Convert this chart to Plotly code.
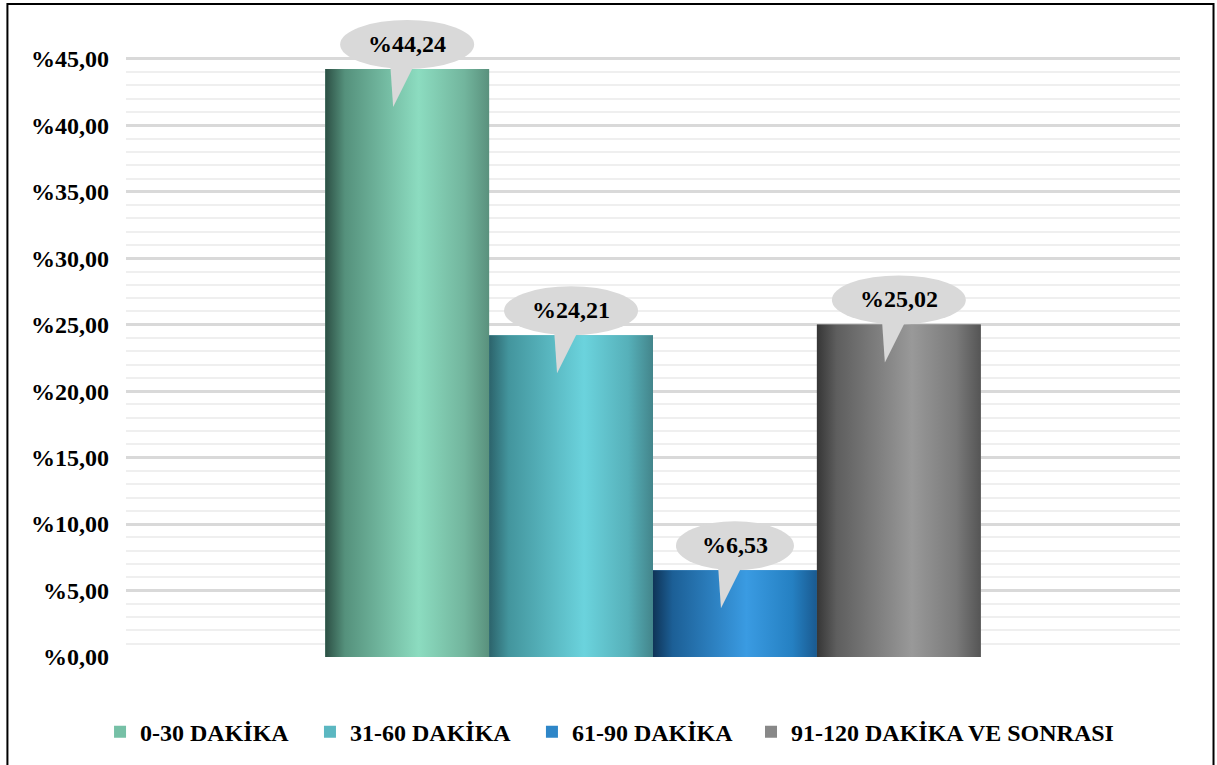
import plotly.graph_objects as go

# ---- data ----
series_names = ["0-30 DAKİKA", "31-60 DAKİKA", "61-90 DAKİKA", "91-120 DAKİKA VE SONRASI"]
values = [44.24, 24.21, 6.53, 25.02]
value_labels = ["%44,24", "%24,21", "%6,53", "%25,02"]
tick_values = [0, 5, 10, 15, 20, 25, 30, 35, 40, 45]
tick_labels = ["%0,00", "%5,00", "%10,00", "%15,00", "%20,00", "%25,00",
               "%30,00", "%35,00", "%40,00", "%45,00"]

# ---- styles ----
legend_colors = ["#76c0a6", "#5bb7c1", "#2e86c8", "#888888"]
legend_x = [0.0822, 0.2547, 0.4371, 0.6171]
gradients = [
    [[0, "#2c4f44"], [0.12, "#55917c"], [0.57, "#8cdcc0"], [0.85, "#72b59d"], [1, "#5a917d"]],
    [[0, "#2c636b"], [0.12, "#43959d"], [0.58, "#6bd3dd"], [0.85, "#56b0b9"], [1, "#43858b"]],
    [[0, "#0f3457"], [0.12, "#1c5f96"], [0.57, "#3a9be2"], [0.85, "#2580c2"], [1, "#1a5a90"]],
    [[0, "#363636"], [0.12, "#5e5e5e"], [0.58, "#999999"], [0.85, "#7a7a7a"], [1, "#555555"]],
]
FONT = "Liberation Serif"
bargap = 0.378
n = len(values)
group_w = 1 - bargap
bar_w = group_w / n
y_top = 48
minor_vals = [v for v in range(0, tick_values[-1] + 1) if v not in tick_values]

fig = go.Figure()

legend_ids = ["legend", "legend2", "legend3", "legend4"]
for i, (name, v) in enumerate(zip(series_names, values)):
    fig.add_trace(go.Bar(
        x=[0], y=[v], name=name, legend=legend_ids[i],
        marker=dict(color=legend_colors[i], line=dict(width=0)),
        hoverinfo="skip",
    ))

# gradient overlays on each bar (positions derived from the bar layout)
for i, v in enumerate(values):
    x0 = -group_w / 2 + i * bar_w
    x1 = x0 + bar_w
    fig.add_trace(go.Scatter(
        x=[x0, x1, x1, x0, x0], y=[0, 0, v, v, 0],
        mode="lines", fill="toself", line=dict(width=0),
        fillgradient=dict(type="horizontal", colorscale=gradients[i]),
        showlegend=False, hoverinfo="skip",
    ))

# callout bubbles + labels
for i, (v, lab) in enumerate(zip(values, value_labels)):
    cx = -group_w / 2 + (i + 0.5) * bar_w
    half = 8 * len(lab) + 19
    fig.add_shape(type="circle", xref="x", yref="y",
                  xsizemode="pixel", ysizemode="pixel",
                  xanchor=cx, yanchor=v,
                  x0=-half, x1=half, y0=0, y1=49,
                  fillcolor="#d9d9d9", line=dict(width=0), layer="above")
    fig.add_shape(type="path", xref="x", yref="y",
                  xsizemode="pixel", ysizemode="pixel",
                  xanchor=cx, yanchor=v,
                  path="M -17 6 L 8 6 L -14 -38 Z",
                  fillcolor="#d9d9d9", line=dict(width=0), layer="above")
    fig.add_annotation(x=cx, y=v, xref="x", yref="y", text=lab, showarrow=False,
                       yshift=25, xshift=0,
                       font=dict(family=FONT, size=24, color="black", weight="bold"))

# outer border
fig.add_shape(type="rect", xref="paper", yref="paper",
              x0=-0.1125, x1=1.0318, y0=-0.2, y1=1.0235,
              line=dict(color="black", width=2), fillcolor="rgba(0,0,0,0)", layer="above")

legend_font = dict(family=FONT, size=24, color="black", weight="bold")
layout_legends = {}
for lid, lx in zip(legend_ids, legend_x):
    layout_legends[lid] = dict(orientation="h", xref="container", yref="container",
                               x=lx, xanchor="left", y=0.0431, yanchor="middle",
                               font=legend_font, itemwidth=30,
                               bgcolor="rgba(0,0,0,0)")

fig.update_layout(
    width=1217, height=765,
    margin=dict(l=126, r=37, t=19, b=108),
    paper_bgcolor="white", plot_bgcolor="white",
    barmode="group", bargap=bargap, bargroupgap=0,
    showlegend=True,
    xaxis=dict(range=[-0.5, 0.5], showticklabels=False, showgrid=False,
               zeroline=False, ticks="", fixedrange=True),
    yaxis=dict(range=[0, y_top], tickvals=tick_values, ticktext=tick_labels,
               showgrid=True, gridcolor="#d9d9d9", gridwidth=2.5,
               zeroline=False, ticks="", ticklabelstandoff=16,
               tickfont=dict(family=FONT, size=24, color="black", weight="bold"),
               minor=dict(tickmode="array", tickvals=minor_vals, showgrid=True,
                          gridcolor="#efefef", gridwidth=2, ticks="")),
    **layout_legends,
)

fig.write_html("out.html", config={"displayModeBar": False},
               post_script="document.body.style.margin='0';")
